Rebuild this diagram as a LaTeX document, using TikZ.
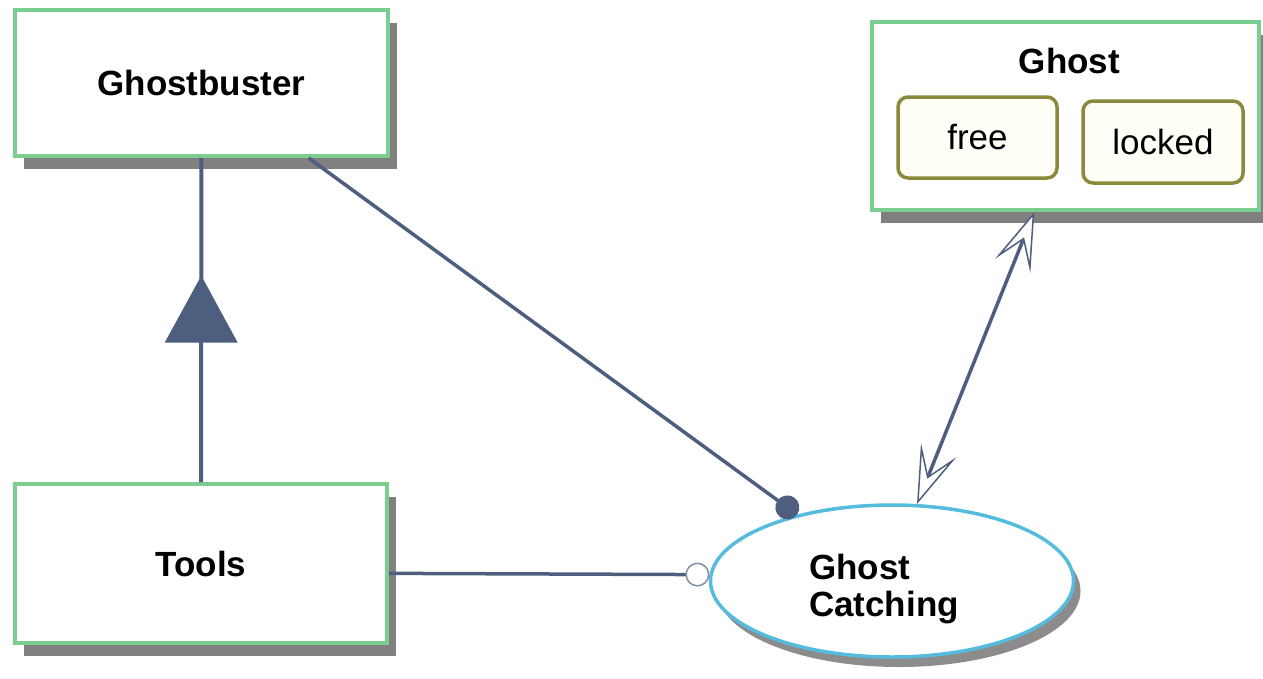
\documentclass[tikz,border=0pt]{standalone}
\usepackage{fontspec}
\setmainfont{Liberation Sans}
\usetikzlibrary{calc,shadows,shapes.geometric,arrows.meta,decorations.markings}
\definecolor{BoxGreen}{HTML}{79CE90}
\definecolor{LinkBlue}{HTML}{4D5E7E}
\definecolor{Olive}{HTML}{8A893C}
\definecolor{Sky}{HTML}{55BCDD}
\newcommand{\LabelSize}{\fontsize{35}{37}\selectfont}
\tikzset{Box/.style={
    inner sep=0pt,
    draw=BoxGreen,
    line width=4pt,
    fill=white,
    font=\LabelSize\bfseries,
    drop shadow={shadow xshift=9pt, shadow yshift=-13pt, opacity=1, fill=black!50},
    }
}

\begin{document}
\begin{tikzpicture}[x=1pt, y=-1pt,
    Link/.style={draw=LinkBlue, line width=3.5pt},
    State/.style={draw=Olive, line width=3.5pt, rounded corners=10pt, fill=yellow!3,
        inner sep=0pt, font=\LabelSize},
    Oval/.style={ellipse, draw=Sky, line width=3.5pt, fill=white, inner sep=0pt,
        minimum width=363pt, minimum height=152pt,
        drop shadow={shadow xshift=7pt, shadow yshift=-10pt, opacity=1, fill=black!45}},
]
\useasboundingbox (0,0) rectangle (1263,678);

\node [Box, minimum width=373pt, minimum height=146pt] (gb) at (201.5,83) {Ghostbuster};
\node [Box, minimum width=372pt, minimum height=159pt] (tl) at (201,563.5) {Tools};
\node [Box, minimum width=387pt, minimum height=188pt] (gh) at (1065.5,116) {};
\node [font=\LabelSize\bfseries] (ghtitle) at ($(gh.north)+(4,41)$) {Ghost};
\node [State, minimum width=159pt, minimum height=81pt] (free) at (977.5,137.5) {free};
\node [State, minimum width=160pt, minimum height=82pt] (locked) at (1163,142) {locked};
\node [Oval] (gc) at (892,581) {};
\node [align=left, font=\LabelSize\bfseries] (gclabel) at ($(gc)+(-8,8)$) {Ghost\\Catching};

% generalization
\draw [Link, line width=4pt, postaction={decorate}, decoration={markings,
    mark=at position 0.637 with {\arrow{Triangle[width=72pt,length=67pt]}}}]
    (tl) -- (gb);
\draw [Link, -{Circle[length=24pt]}] (gb.-35) -- (gc.145);
\draw [Link, -{Circle[open, length=24pt, line width=1.5pt, fill=white, color=LinkBlue!70]}]
    (tl.-3) -- (gc.178);
\draw [Link,
    {Stealth[open, length=58pt, width=38pt, inset=28pt, line width=1.5pt, fill=white]}-{Stealth[open, length=58pt, width=38pt, inset=28pt, line width=1.5pt, fill=white]}]
    (gc.72) -- (gh.-108);
\end{tikzpicture}
\end{document}
